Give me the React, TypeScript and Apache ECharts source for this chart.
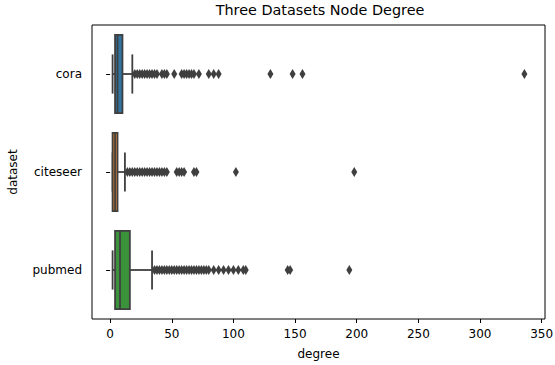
import React, { useEffect, useRef } from "react";
import * as echarts from "echarts";

const categories = ["cora", "citeseer", "pubmed"];
// [lower whisker, Q1, median, Q3, upper whisker]
const coraBox = [2, 4, 6, 10, 18];
const citeseerBox = [2, 2, 4, 6, 12];
const pubmedBox = [2, 4, 8, 16, 34];
const boxColors = ["#3274a1", "#e1812c", "#3a923a"];

const coraOutliers = [20, 22, 24, 26, 28, 30, 32, 34, 36, 38, 42, 44, 46, 52, 58, 60, 62, 64, 66, 68, 72, 80, 84, 88, 130, 148, 156, 336];
const citeseerOutliers = [14, 16, 18, 20, 22, 24, 26, 28, 30, 32, 34, 36, 38, 40, 42, 44, 46, 54, 56, 58, 60, 68, 70, 102, 198];
const pubmedOutliers = [36, 38, 40, 42, 44, 46, 48, 50, 52, 54, 56, 58, 60, 62, 64, 66, 68, 70, 72, 74, 76, 78, 80, 84, 88, 92, 96, 100, 104, 108, 110, 144, 146, 194];

const xTicks = [0, 50, 100, 150, 200, 250, 300, 350];
const xMin = -14.7;
const xMax = 352.7;

const EDGE = "#3f3f3f";
const FONT = "DejaVu Sans";

export default function App() {
  const ref = useRef<HTMLDivElement>(null);
  useEffect(() => {
    if (!ref.current) return;
    document.body.style.margin = "0";
    const chart = echarts.init(ref.current, null, { renderer: "svg" });
    const boxes = [coraBox, citeseerBox, pubmedBox];
    const outliers = [coraOutliers, citeseerOutliers, pubmedOutliers];
    const boxData = boxes.map((b, i) => [i, ...b]);
    const scatterData: number[][] = [];
    outliers.forEach((arr, i) => arr.forEach((v) => scatterData.push([v, i])));

    chart.setOption({
      animation: false,
      backgroundColor: "#ffffff",
      title: {
        text: "Three Datasets Node Degree",
        left: 320,
        top: 3,
        padding: 0,
        textAlign: "center",
        textStyle: { fontFamily: FONT, fontSize: 14.4, fontWeight: "normal", color: "#000" },
      },
      grid: {
        left: 92,
        right: 10,
        top: 25,
        bottom: 46,
        show: true,
        borderColor: "#000",
        borderWidth: 1,
        backgroundColor: "transparent",
        containLabel: false,
        outerBoundsMode: "none",
      },
      xAxis: {
        type: "value",
        min: xMin,
        max: xMax,
        name: "degree",
        nameLocation: "middle",
        nameGap: 29,
        nameTextStyle: { fontFamily: FONT, fontSize: 12, color: "#000" },
        axisLine: { show: false },
        splitLine: { show: false },
        axisTick: { show: true, inside: false, length: 4, customValues: xTicks, lineStyle: { color: "#000" } },
        axisLabel: { customValues: xTicks, margin: 9, fontFamily: FONT, fontSize: 12, color: "#000" },
      },
      yAxis: {
        type: "category",
        data: categories,
        inverse: true,
        name: "dataset",
        nameLocation: "middle",
        nameGap: 73,
        nameRotate: 90,
        nameTextStyle: { fontFamily: FONT, fontSize: 12, color: "#000" },
        axisLine: { show: false },
        splitLine: { show: false },
        axisTick: { show: true, inside: false, length: 4, alignWithLabel: true, lineStyle: { color: "#000" } },
        axisLabel: { margin: 10, fontFamily: FONT, fontSize: 12, color: "#000" },
      },
      series: [
        {
          type: "custom",
          data: boxData,
          encode: { x: [1, 2, 3, 4, 5], y: 0 },
          renderItem: (params: any, api: any) => {
            const cat = api.value(0);
            const lo = api.coord([api.value(1), cat]);
            const q1 = api.coord([api.value(2), cat]);
            const med = api.coord([api.value(3), cat]);
            const q3 = api.coord([api.value(4), cat]);
            const hi = api.coord([api.value(5), cat]);
            const band = api.size([0, 1])[1];
            const h = band * 0.8;
            const ch = h / 2;
            const y = lo[1];
            const ls = { stroke: EDGE, lineWidth: 1.8 };
            return {
              type: "group",
              children: [
                { type: "line", shape: { x1: lo[0], y1: y, x2: q1[0], y2: y }, style: ls },
                { type: "line", shape: { x1: q3[0], y1: y, x2: hi[0], y2: y }, style: ls },
                { type: "line", shape: { x1: lo[0], y1: y - ch / 2, x2: lo[0], y2: y + ch / 2 }, style: ls },
                { type: "line", shape: { x1: hi[0], y1: y - ch / 2, x2: hi[0], y2: y + ch / 2 }, style: ls },
                {
                  type: "rect",
                  shape: { x: q1[0], y: y - h / 2, width: q3[0] - q1[0], height: h },
                  style: { fill: boxColors[cat], stroke: EDGE, lineWidth: 1.8 },
                },
                { type: "line", shape: { x1: med[0], y1: y - h / 2, x2: med[0], y2: y + h / 2 }, style: ls },
              ],
            };
          },
          z: 2,
        },
        {
          type: "scatter",
          data: scatterData,
          symbol: "diamond",
          symbolSize: [6, 10],
          itemStyle: { color: EDGE, opacity: 1 },
          z: 3,
        },
      ],
    });
    return () => chart.dispose();
  }, []);
  return <div ref={ref} style={{ width: 555, height: 365 }} />;
}
